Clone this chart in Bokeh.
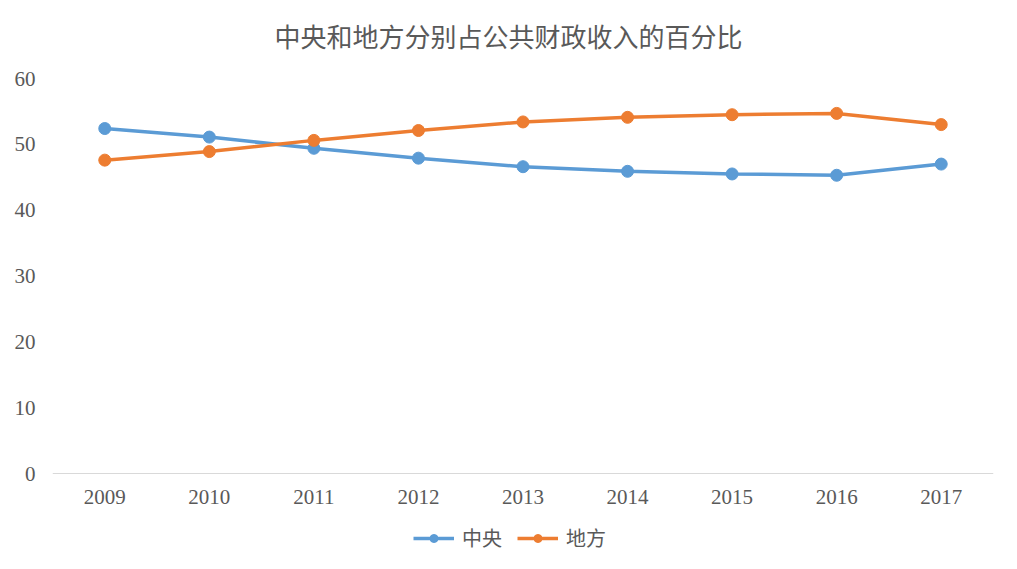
from bokeh.plotting import figure
from bokeh.models import Range1d, FactorRange, Legend, LegendItem, Label
from bokeh.embed import file_html
from bokeh.resources import INLINE

years = ["2009", "2010", "2011", "2012", "2013", "2014", "2015", "2016", "2017"]
central = [52.4, 51.1, 49.4, 47.9, 46.6, 45.9, 45.5, 45.3, 47.0]
local = [47.6, 48.9, 50.6, 52.1, 53.4, 54.1, 54.5, 54.7, 53.0]
series_names = ["中央", "地方"]
y_ticks = [0, 10, 20, 30, 40, 50, 60]
title_text = "中央和地方分别占公共财政收入的百分比"

BLUE = "#5B9BD5"
ORANGE = "#ED7D31"
GREY_TXT = "#595959"
CJK = "Noto Sans CJK SC"
SERIF = "Liberation Serif"

# layout (pixels)
TOP, BOTTOM = 5, 5
FRAME_H = 551
PX_PER_UNIT = 395 / 60.0
Y0_PX = 473 - TOP          # pixel row of value 0 measured from frame top
y_hi = Y0_PX / PX_PER_UNIT
y_lo = -(FRAME_H - Y0_PX) / PX_PER_UNIT

p = figure(frame_width=941, frame_height=FRAME_H, x_range=FactorRange(*years),
           y_range=Range1d(y_lo, y_hi),
           output_backend="svg", toolbar_location=None,
           min_border_left=52, min_border_right=16, min_border_top=TOP, min_border_bottom=BOTTOM)

p.outline_line_color = None
p.xgrid.grid_line_color = None
p.ygrid.grid_line_color = None

p.xaxis.fixed_location = 0
p.xaxis.axis_line_color = "#D9D9D9"
p.xaxis.axis_line_width = 1
p.xaxis.major_tick_line_color = None
p.xaxis.minor_tick_line_color = None
p.xaxis.major_label_text_font = SERIF
p.xaxis.major_label_text_font_size = "21px"
p.xaxis.major_label_text_color = GREY_TXT
p.xaxis.major_label_standoff = 10

p.yaxis.axis_line_color = None
p.yaxis.major_tick_line_color = None
p.yaxis.minor_tick_line_color = None
p.yaxis.ticker = y_ticks
p.yaxis.major_label_text_font = SERIF
p.yaxis.major_label_text_font_size = "21px"
p.yaxis.major_label_text_color = GREY_TXT
p.yaxis.major_label_standoff = 11

r1 = p.line(years, central, line_color=BLUE, line_width=3.5)
c1 = p.scatter(years, central, size=12, fill_color=BLUE, line_color=BLUE)
r2 = p.line(years, local, line_color=ORANGE, line_width=3.5)
c2 = p.scatter(years, local, size=12, fill_color=ORANGE, line_color=ORANGE)

title = Label(x=456, y=FRAME_H + TOP - 35, x_units="screen", y_units="screen",
              text=title_text, text_align="center", text_baseline="middle",
              text_font=CJK, text_font_size="26px", text_color=GREY_TXT)
p.add_layout(title)

legend = Legend(items=[LegendItem(label=series_names[0], renderers=[r1, c1]),
                       LegendItem(label=series_names[1], renderers=[r2, c2])],
                orientation="horizontal", location=(361, 4),
                label_text_font=CJK, label_text_font_size="20px", label_text_color=GREY_TXT,
                glyph_width=41, glyph_height=20, spacing=15, label_standoff=8,
                border_line_color=None, background_fill_alpha=0, margin=0, padding=6)
p.add_layout(legend, "center")

open("out.html", "w").write(file_html(p, INLINE))
